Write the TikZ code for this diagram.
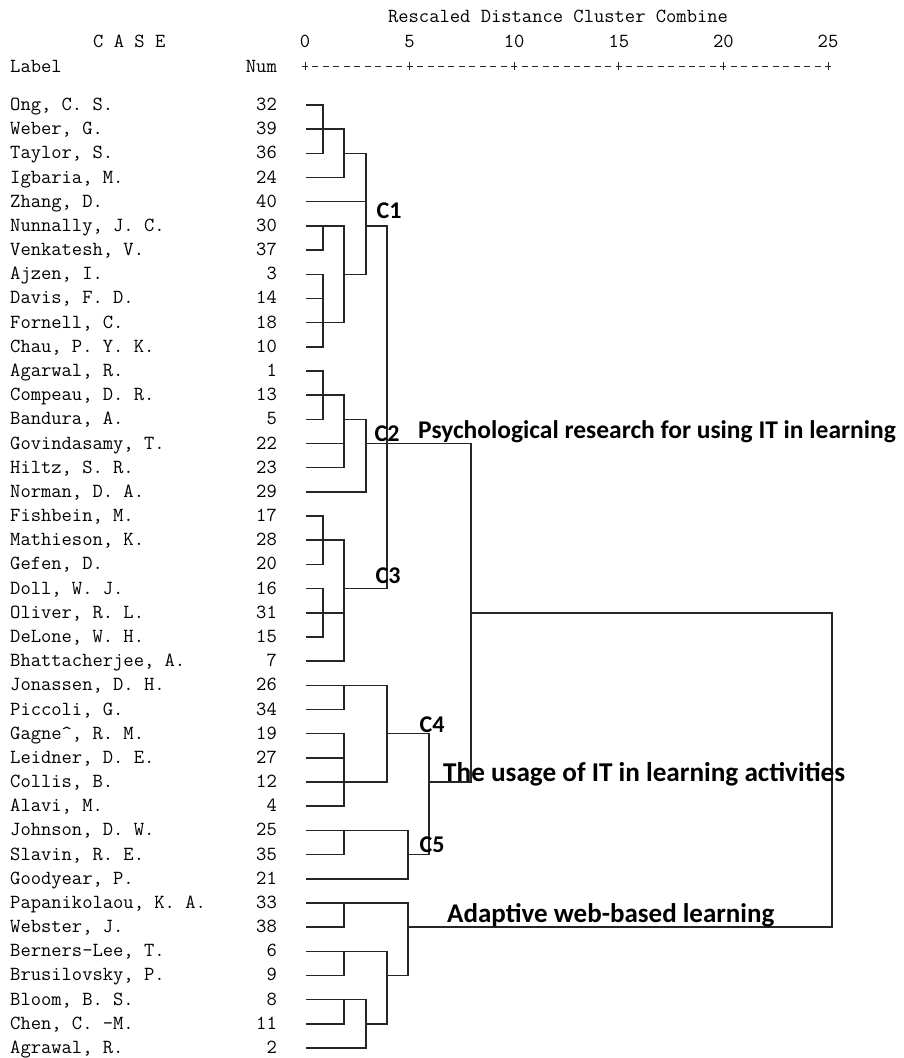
\documentclass[tikz,border=0pt]{standalone}
\usepackage{fontspec}
\newfontfamily\calfont{Carlito}
\tikzset{
  link/.style={line width=1.5pt, black!85, line cap=rect},
  axisline/.style={line width=1pt, black!85},
  mono/.style={inner sep=0pt, font=\ttfamily\frenchspacing\fontsize{20}{24}\selectfont},
  casename/.style={mono, anchor=base west},
  casenum/.style={mono, anchor=base east},
  clab/.style={inner sep=0pt, font=\calfont\bfseries\fontsize{24}{28}\selectfont},
  theme/.style={inner sep=0pt, anchor=base west, font=\calfont\bfseries\fontsize{25.5}{30}\selectfont},
}
\begin{document}
\begin{tikzpicture}[x=1pt,y=-1pt]
\useasboundingbox (0,0) rectangle (904,1058);

% header
\node[mono, anchor=base] (title) at (558,22) {Rescaled Distance Cluster Combine};
\node[mono, anchor=base west] (case) at (93,47) {C A S E};
\node[casename] (label) at (10,72) {Label};
\node[casenum] (num) at (277,72) {Num};
\foreach \v [count=\k from 0] in {0,5,10,15,20,25}
  \node[mono, anchor=base] (t\k) at ({305+104.6*\k},47) {\v};
\foreach \j in {0,...,50}
  \draw[axisline] ({305+10.46*\j-3},66) -- ++(6,0);
\foreach \k in {0,...,5}
  \draw[axisline] ({305+104.6*\k},62) -- ++(0,8);

% columns of the tree
\foreach \n/\x in {A/323,B/344,C/366,D/387,E/408,F/429,G/471,H/832}
  \coordinate (c\n) at (\x,0);

% cases
\foreach \lab/\num [count=\i from 0] in {{Ong, C. S.}/32, {Weber, G.}/39, {Taylor, S.}/36,
    {Igbaria, M.}/24, {Zhang, D.}/40, {Nunnally, J. C.}/30, {Venkatesh, V.}/37, {Ajzen, I.}/3,
    {Davis, F. D.}/14, {Fornell, C.}/18, {Chau, P. Y. K.}/10, {Agarwal, R.}/1, {Compeau, D. R.}/13,
    {Bandura, A.}/5, {Govindasamy, T.}/22, {Hiltz, S. R.}/23, {Norman, D. A.}/29, {Fishbein, M.}/17,
    {Mathieson, K.}/28, {Gefen, D.}/20, {Doll, W. J.}/16, {Oliver, R. L.}/31, {DeLone, W. H.}/15,
    {Bhattacherjee, A.}/7, {Jonassen, D. H.}/26, {Piccoli, G.}/34, {Gagne\textasciicircum, R. M.}/19,
    {Leidner, D. E.}/27, {Collis, B.}/12, {Alavi, M.}/4, {Johnson, D. W.}/25, {Slavin, R. E.}/35,
    {Goodyear, P.}/21, {Papanikolaou, K. A.}/33, {Webster, J.}/38, {Berners-Lee, T.}/6,
    {Brusilovsky, P.}/9, {Bloom, B. S.}/8, {Chen, C. -M.}/11, {Agrawal, R.}/2} {
  \coordinate (r\i) at (307,{105+24.18*\i});
  \node[casename] (n\i) at (10,{110.5+24.18*\i}) {\lab};
  \node[casenum] (k\i) at (277,{110.5+24.18*\i}) {\num};
}

% leaves
\foreach \i/\c in {0/A,1/B,2/A,3/B,4/C,5/B,6/A,7/A,8/A,9/B,10/A,
    11/A,12/B,13/A,14/B,15/B,16/C,17/A,18/B,19/A,20/A,21/B,22/A,23/B,
    24/D,25/B,26/B,27/B,28/D,29/B,30/E,31/B,32/E,
    33/E,34/B,35/D,36/B,37/C,38/B,39/C}
  \draw[link] (r\i) -- (c\c |- r\i);

% merges
\foreach \c/\a/\b in {A/0/2,B/1/3,C/2/7,A/5/6,B/5/9,A/7/10,D/5/20,
    A/11/13,B/12/15,C/13/16,A/17/19,A/20/22,B/18/23,
    B/24/25,B/26/29,D/24/28,B/30/31,E/30/32,F/26/31,G/14/28,
    B/33/34,B/35/36,B/37/38,C/37/39,D/35/38,E/33/36,H/21/34}
  \draw[link] (c\c |- r\a) -- (c\c |- r\b);
\foreach \i/\p/\q in {2/B/C,5/C/D,7/B/C,13/B/C,14/C/G,20/B/D,
    26/D/F,31/E/F,28/F/G,21/G/H,38/C/D,36/D/E,34/E/H}
  \draw[link] (c\p |- r\i) -- (c\q |- r\i);

% cluster labels
\node[clab] (lc1) at (389,211) {C1};
\node[clab] (lc2) at (387,434) {C2};
\node[clab] (lc3) at (388,576) {C3};
\node[clab] (lc4) at (432,725) {C4};
\node[clab] (lc5) at (432,845) {C5};

\node[theme] (psy) at (418,438) {Psychological research for using IT in learning};
\node[theme, font=\calfont\bfseries\fontsize{27.2}{30}\selectfont] (use) at (443,781) {The usage of IT in learning activities};
\node[theme, font=\calfont\bfseries\fontsize{27}{30}\selectfont] (ada) at (447,922) {Adaptive web-based learning};
\end{tikzpicture}
\end{document}
